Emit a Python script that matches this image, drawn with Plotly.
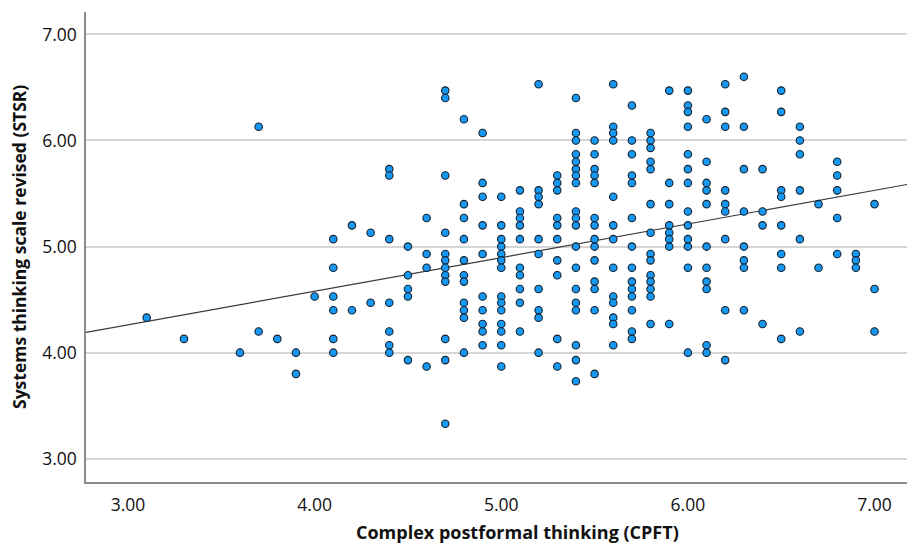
import plotly.graph_objects as go

# CPFT levels (x) and the STSR values observed at each level (y)
cpft_levels = [3.1, 3.3, 3.6, 3.7, 3.8, 3.9, 4.0, 4.1, 4.2, 4.3, 4.4, 4.5, 4.6, 4.7, 4.8, 4.9,
               5.0, 5.1, 5.2, 5.3, 5.4, 5.5, 5.6, 5.7, 5.8, 5.9, 6.0, 6.1, 6.2, 6.3, 6.4, 6.5,
               6.6, 6.7, 6.8, 6.9, 7.0]

stsr_columns = [
    [4.33],
    [4.13],
    [4.00],
    [6.13, 4.20],
    [4.13],
    [4.00, 3.80],
    [4.53],
    [5.07, 4.80, 4.53, 4.40, 4.13, 4.00],
    [5.20, 4.40],
    [5.13, 4.47],
    [5.73, 5.67, 5.07, 4.47, 4.20, 4.07, 4.00],
    [5.00, 4.73, 4.60, 4.53, 3.93],
    [5.27, 4.93, 4.80, 3.87],
    [6.47, 6.40, 5.67, 5.13, 4.93, 4.87, 4.80, 4.73, 4.67, 4.13, 3.93, 3.33],
    [6.20, 5.40, 5.27, 5.07, 4.87, 4.73, 4.67, 4.47, 4.40, 4.33, 4.00],
    [6.07, 5.60, 5.47, 5.20, 4.93, 4.53, 4.40, 4.27, 4.20, 4.07],
    [5.47, 5.20, 5.07, 5.00, 4.93, 4.87, 4.80, 4.53, 4.47, 4.40, 4.27, 4.20, 4.07, 3.87],
    [5.53, 5.33, 5.27, 5.20, 5.07, 4.80, 4.73, 4.60, 4.47, 4.20],
    [6.53, 5.53, 5.47, 5.40, 5.07, 4.93, 4.60, 4.40, 4.33, 4.00],
    [5.67, 5.60, 5.53, 5.27, 5.20, 5.07, 4.87, 4.73, 4.13, 3.87],
    [6.40, 6.07, 6.00, 5.87, 5.80, 5.73, 5.67, 5.60, 5.33, 5.27, 5.20, 5.00, 4.80, 4.60,
     4.47, 4.40, 4.07, 3.93, 3.73],
    [6.00, 5.87, 5.73, 5.67, 5.60, 5.27, 5.20, 5.07, 5.00, 4.87, 4.67, 4.60, 4.40, 3.80],
    [6.53, 6.13, 6.07, 6.00, 5.47, 5.20, 5.07, 4.80, 4.53, 4.47, 4.33, 4.27, 4.07],
    [6.33, 6.00, 5.87, 5.67, 5.60, 5.27, 5.00, 4.80, 4.67, 4.60, 4.53, 4.40, 4.20, 4.13],
    [6.07, 6.00, 5.93, 5.80, 5.73, 5.40, 5.13, 4.93, 4.87, 4.73, 4.67, 4.60, 4.53, 4.27],
    [6.47, 5.60, 5.40, 5.20, 5.13, 5.07, 5.00, 4.27],
    [6.47, 6.33, 6.27, 6.13, 5.87, 5.73, 5.60, 5.33, 5.20, 5.07, 5.00, 4.80, 4.00],
    [6.20, 5.80, 5.60, 5.53, 5.40, 5.00, 4.80, 4.67, 4.60, 4.07, 4.00],
    [6.53, 6.27, 6.13, 5.53, 5.40, 5.33, 5.07, 4.40, 3.93],
    [6.60, 6.13, 5.73, 5.33, 5.00, 4.87, 4.80, 4.40],
    [5.73, 5.33, 5.20, 4.27],
    [6.47, 6.27, 5.53, 5.47, 5.20, 4.93, 4.80, 4.13],
    [6.13, 6.00, 5.87, 5.53, 5.07, 4.20],
    [5.40, 4.80],
    [5.80, 5.67, 5.53, 5.27, 4.93],
    [4.93, 4.87, 4.80],
    [5.40, 4.60, 4.20],
]

# Fit line
fit_intercept = 3.311
fit_slope = 0.317

x_range = [2.775, 7.174]
y_range = [2.781, 7.211]
tick_values = [3, 4, 5, 6, 7]
tick_labels = ["3.00", "4.00", "5.00", "6.00", "7.00"]

x_title = "Complex postformal thinking (CPFT)"
y_title = "Systems thinking scale revised (STSR)"

cpft = []
stsr = []
for lvl, col in zip(cpft_levels, stsr_columns):
    for v in col:
        cpft.append(lvl)
        stsr.append(v)

fit_x = x_range
fit_y = [fit_intercept + fit_slope * v for v in fit_x]

fig = go.Figure()
fig.add_trace(go.Scatter(
    x=fit_x, y=fit_y, mode="lines",
    line=dict(color="#3a3a3a", width=1.2),
    hoverinfo="skip",
))
fig.add_trace(go.Scatter(
    x=cpft, y=stsr, mode="markers",
    marker=dict(size=7.5, color="#1798f0", line=dict(color="#16202e", width=1.1)),
))

font_family = "Open Sans"
fig.update_layout(
    width=907, height=545,
    margin=dict(l=86, r=0, t=12, b=63),
    plot_bgcolor="white", paper_bgcolor="white",
    showlegend=False,
    font=dict(family=font_family, color="#111111"),
    xaxis=dict(
        range=x_range, tickvals=tick_values, ticktext=tick_labels,
        showgrid=False, zeroline=False, showline=True,
        linecolor="#8c8c8c", linewidth=1.5, ticks="",
        tickfont=dict(size=17.5, color="#111111"),
        ticklabelstandoff=6,
    ),
    yaxis=dict(
        range=y_range, tickvals=tick_values, ticktext=tick_labels,
        showgrid=True, gridcolor="#d6d6d6", gridwidth=1.5,
        zeroline=False, showline=True,
        linecolor="#8c8c8c", linewidth=1.5, ticks="",
        tickfont=dict(size=17.5, color="#111111"),
        ticklabelstandoff=4,
    ),
    annotations=[
        dict(text=f"<b>{x_title}</b>", xref="paper", yref="paper",
             x=(517 - 86) / 821, y=(482 - 531.7) / 470,
             xanchor="center", yanchor="middle", showarrow=False,
             font=dict(size=18, family=font_family, color="#111111")),
        dict(text=f"<b>{y_title}</b>", xref="paper", yref="paper",
             x=(19 - 86) / 821, y=0.5, textangle=-90,
             xanchor="center", yanchor="middle", showarrow=False,
             font=dict(size=17.5, family=font_family, color="#111111")),
    ],
)

fig.write_html("out.html")
